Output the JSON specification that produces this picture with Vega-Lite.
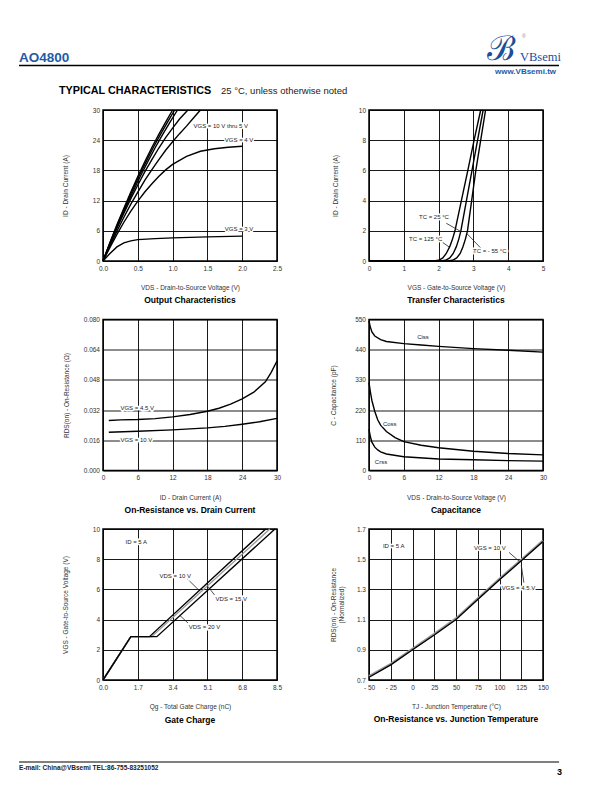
{
"$schema": "https://vega.github.io/schema/vega-lite/v6.json",
"background": "white",
"padding": {"left": 17, "top": 31, "right": 0, "bottom": 0},
"columns": 2,
"spacing": {"row": 58.5, "column": 92},
"bounds": "flush",
"datasets": {
"p1lines": [
{"s":"10 V","x":0,"y":0},{"s":"10 V","x":0.1,"y":3.7},{"s":"10 V","x":0.2,"y":7.2},{"s":"10 V","x":0.3,"y":10.5},{"s":"10 V","x":0.4,"y":13.7},{"s":"10 V","x":0.5,"y":16.8},{"s":"10 V","x":0.6,"y":19.7},{"s":"10 V","x":0.7,"y":22.5},{"s":"10 V","x":0.8,"y":25.1},{"s":"10 V","x":0.9,"y":27.6},{"s":"10 V","x":1.0,"y":30},
{"s":"8 V","x":0,"y":0},{"s":"8 V","x":0.103,"y":3.7},{"s":"8 V","x":0.206,"y":7.2},{"s":"8 V","x":0.309,"y":10.5},{"s":"8 V","x":0.412,"y":13.7},{"s":"8 V","x":0.515,"y":16.8},{"s":"8 V","x":0.618,"y":19.7},{"s":"8 V","x":0.721,"y":22.5},{"s":"8 V","x":0.824,"y":25.1},{"s":"8 V","x":0.927,"y":27.6},{"s":"8 V","x":1.03,"y":30},
{"s":"7 V","x":0,"y":0},{"s":"7 V","x":0.107,"y":3.7},{"s":"7 V","x":0.214,"y":7.2},{"s":"7 V","x":0.321,"y":10.5},{"s":"7 V","x":0.428,"y":13.7},{"s":"7 V","x":0.535,"y":16.8},{"s":"7 V","x":0.642,"y":19.7},{"s":"7 V","x":0.749,"y":22.5},{"s":"7 V","x":0.856,"y":25.1},{"s":"7 V","x":0.963,"y":27.6},{"s":"7 V","x":1.07,"y":30},
{"s":"6 V","x":0,"y":0},{"s":"6 V","x":0.1,"y":3.3},{"s":"6 V","x":0.2,"y":6.5},{"s":"6 V","x":0.3,"y":9.5},{"s":"6 V","x":0.4,"y":12.4},{"s":"6 V","x":0.5,"y":15.1},{"s":"6 V","x":0.6,"y":17.7},{"s":"6 V","x":0.7,"y":20.1},{"s":"6 V","x":0.8,"y":22.4},{"s":"6 V","x":0.9,"y":24.5},{"s":"6 V","x":1.0,"y":26.4},{"s":"6 V","x":1.1,"y":28.2},{"s":"6 V","x":1.22,"y":30},
{"s":"5 V","x":0,"y":0},{"s":"5 V","x":0.1,"y":3.0},{"s":"5 V","x":0.2,"y":5.9},{"s":"5 V","x":0.3,"y":8.7},{"s":"5 V","x":0.4,"y":11.3},{"s":"5 V","x":0.5,"y":13.7},{"s":"5 V","x":0.6,"y":16.0},{"s":"5 V","x":0.7,"y":18.1},{"s":"5 V","x":0.8,"y":20.1},{"s":"5 V","x":0.9,"y":22.0},{"s":"5 V","x":1.0,"y":23.7},{"s":"5 V","x":1.1,"y":25.3},{"s":"5 V","x":1.2,"y":26.8},{"s":"5 V","x":1.3,"y":28.4},{"s":"5 V","x":1.4,"y":30},
{"s":"4 V","x":0,"y":0},{"s":"4 V","x":0.1,"y":2.7},{"s":"4 V","x":0.2,"y":5.3},{"s":"4 V","x":0.3,"y":7.7},{"s":"4 V","x":0.4,"y":9.9},{"s":"4 V","x":0.5,"y":11.9},{"s":"4 V","x":0.6,"y":13.7},{"s":"4 V","x":0.7,"y":15.3},{"s":"4 V","x":0.8,"y":16.8},{"s":"4 V","x":0.9,"y":18.1},{"s":"4 V","x":1.0,"y":19.2},{"s":"4 V","x":1.2,"y":20.8},{"s":"4 V","x":1.4,"y":21.8},{"s":"4 V","x":1.6,"y":22.3},{"s":"4 V","x":1.8,"y":22.6},{"s":"4 V","x":2.0,"y":22.8},
{"s":"3 V","x":0,"y":0},{"s":"3 V","x":0.1,"y":1.5},{"s":"3 V","x":0.2,"y":2.8},{"s":"3 V","x":0.3,"y":3.6},{"s":"3 V","x":0.4,"y":4.0},{"s":"3 V","x":0.5,"y":4.25},{"s":"3 V","x":0.75,"y":4.45},{"s":"3 V","x":1.0,"y":4.6},{"s":"3 V","x":1.5,"y":4.8},{"s":"3 V","x":2.0,"y":4.95}
],
"p1labels": [
{"label":"VGS = 10 V thru 5 V","x":1.30,"y":26.9},
{"label":"VGS = 4 V","x":1.75,"y":24.1},
{"label":"VGS = 3 V","x":1.75,"y":6.35}
],
"header": [
{"k":"ao","text":"AO4800","x":-1.207,"y":39.54},
{"k":"www","text":"www.VBsemi.tw","x":6.509,"y":37.15},
{"k":"logo","text":"VBsemi","x":5.991,"y":39.74},
{"k":"glyph","text":"ℬ","x":5.52,"y":40.03},
{"k":"reg","text":"®","x":6.02,"y":44.3},
{"k":"tc","text":"TYPICAL CHARACTERISTICS","x":-0.632,"y":33.18},
{"k":"note","text":"25 °C, unless otherwise noted","x":1.695,"y":33.18}
],
"headerRule": [{"x":-1.207,"x2":6.552,"y":38.84}],
"p2lines": [
{"s":"125","x":0,"y":0},{"s":"125","x":1.85,"y":0},{"s":"125","x":2.0,"y":0.05},{"s":"125","x":2.12,"y":0.2},{"s":"125","x":2.22,"y":0.5},{"s":"125","x":2.32,"y":0.95},{"s":"125","x":2.40,"y":1.45},{"s":"125","x":2.47,"y":2.0},{"s":"125","x":2.65,"y":3.95},{"s":"125","x":2.84,"y":6.0},{"s":"125","x":3.02,"y":8.0},{"s":"125","x":3.21,"y":10},
{"s":"25","x":0,"y":0},{"s":"25","x":2.05,"y":0},{"s":"25","x":2.2,"y":0.05},{"s":"25","x":2.32,"y":0.2},{"s":"25","x":2.42,"y":0.5},{"s":"25","x":2.51,"y":0.95},{"s":"25","x":2.58,"y":1.45},{"s":"25","x":2.64,"y":2.0},{"s":"25","x":2.80,"y":4.0},{"s":"25","x":2.96,"y":6.0},{"s":"25","x":3.12,"y":8.0},{"s":"25","x":3.28,"y":10},
{"s":"-55","x":0,"y":0},{"s":"-55","x":2.25,"y":0},{"s":"-55","x":2.4,"y":0.05},{"s":"-55","x":2.52,"y":0.2},{"s":"-55","x":2.62,"y":0.5},{"s":"-55","x":2.70,"y":0.95},{"s":"-55","x":2.77,"y":1.45},{"s":"-55","x":2.83,"y":2.0},{"s":"-55","x":2.95,"y":4.0},{"s":"-55","x":3.07,"y":6.0},{"s":"-55","x":3.21,"y":8.0},{"s":"-55","x":3.35,"y":10}
],
"p2labels": [
{"label":"TC = 25 °C","x":1.437,"y":2.89},
{"label":"TC = 125 °C","x":1.149,"y":1.44},
{"label":"TC = - 55 °C","x":2.989,"y":0.66}
],
"p2arrows": [
{"x":2.22,"y":2.5,"x2":2.64,"y2":1.95},
{"x":2.12,"y":1.22,"x2":2.31,"y2":0.92},
{"x":3.2,"y":0.88,"x2":2.82,"y2":1.8}
],
"p3lines": [
{"s":"4.5 V","x":1,"y":0.0265},{"s":"4.5 V","x":3,"y":0.0268},{"s":"4.5 V","x":6,"y":0.0270},{"s":"4.5 V","x":9,"y":0.0275},{"s":"4.5 V","x":12,"y":0.0284},{"s":"4.5 V","x":15,"y":0.0297},{"s":"4.5 V","x":18,"y":0.0314},{"s":"4.5 V","x":20,"y":0.0330},{"s":"4.5 V","x":22,"y":0.0352},{"s":"4.5 V","x":24,"y":0.0380},{"s":"4.5 V","x":26,"y":0.0415},{"s":"4.5 V","x":28,"y":0.0470},{"s":"4.5 V","x":29,"y":0.052},{"s":"4.5 V","x":30,"y":0.058},
{"s":"10 V","x":1,"y":0.0203},{"s":"10 V","x":6,"y":0.0208},{"s":"10 V","x":12,"y":0.0215},{"s":"10 V","x":18,"y":0.0226},{"s":"10 V","x":21,"y":0.0234},{"s":"10 V","x":24,"y":0.0245},{"s":"10 V","x":27,"y":0.0258},{"s":"10 V","x":30,"y":0.0276}
],
"p3labels": [
{"label":"VGS = 4.5 V","x":3.0,"y":0.0330},
{"label":"VGS = 10 V","x":3.0,"y":0.0161}
],
"p4lines": [
{"s":"Ciss","x":0,"y":545},{"s":"Ciss","x":0.2,"y":525},{"s":"Ciss","x":0.5,"y":505},{"s":"Ciss","x":1,"y":490},{"s":"Ciss","x":2,"y":477},{"s":"Ciss","x":3,"y":470},{"s":"Ciss","x":6,"y":462},{"s":"Ciss","x":9,"y":457},{"s":"Ciss","x":12,"y":452},{"s":"Ciss","x":18,"y":444},{"s":"Ciss","x":24,"y":438},{"s":"Ciss","x":30,"y":431},
{"s":"Coss","x":0,"y":320},{"s":"Coss","x":0.25,"y":285},{"s":"Coss","x":0.5,"y":255},{"s":"Coss","x":1,"y":215},{"s":"Coss","x":1.5,"y":185},{"s":"Coss","x":2,"y":165},{"s":"Coss","x":3,"y":142},{"s":"Coss","x":4.5,"y":120},{"s":"Coss","x":6,"y":105},{"s":"Coss","x":9,"y":92},{"s":"Coss","x":12,"y":83},{"s":"Coss","x":18,"y":70},{"s":"Coss","x":24,"y":62},{"s":"Coss","x":30,"y":57},
{"s":"Crss","x":0,"y":150},{"s":"Crss","x":0.25,"y":122},{"s":"Crss","x":0.5,"y":103},{"s":"Crss","x":1,"y":85},{"s":"Crss","x":1.5,"y":75},{"s":"Crss","x":2,"y":68},{"s":"Crss","x":3,"y":60},{"s":"Crss","x":6,"y":50},{"s":"Crss","x":12,"y":42},{"s":"Crss","x":18,"y":39},{"s":"Crss","x":24,"y":36},{"s":"Crss","x":30,"y":34}
],
"p4labels": [
{"label":"Ciss","x":8.3,"y":487},
{"label":"Coss","x":2.4,"y":169},
{"label":"Crss","x":1.0,"y":32}
],
"p5lines": [
{"s":"10 V","x":0,"y":0},{"s":"10 V","x":1.36,"y":2.87},{"s":"10 V","x":2.27,"y":2.87},{"s":"10 V","x":7.95,"y":10},
{"s":"15 V","x":0,"y":0},{"s":"15 V","x":1.36,"y":2.87},{"s":"15 V","x":2.38,"y":2.87},{"s":"15 V","x":8.15,"y":10},
{"s":"20 V","x":0,"y":0},{"s":"20 V","x":1.36,"y":2.87},{"s":"20 V","x":2.63,"y":2.87},{"s":"20 V","x":8.4,"y":10}
],
"p5labels": [
{"label":"ID = 5 A","x":1.1,"y":9.12},
{"label":"VDS = 10 V","x":2.76,"y":6.87},
{"label":"VDS = 15 V","x":5.5,"y":5.36},
{"label":"VDS = 20 V","x":4.19,"y":3.53}
],
"p5arrows": [
{"x":4.12,"y":6.70,"x2":4.68,"y2":5.95},
{"x":5.45,"y":5.63,"x2":5.09,"y2":6.25},
{"x":4.15,"y":3.78,"x2":3.75,"y2":4.28}
],
"p5caption": [{"text":"Gate Charge","x":4.25,"y":-2.62}],
"footer": [
{"k":"mail","text":"E-mail:  China@VBsemi   TEL:86-755-83251052","x":-4.10,"y":-5.96},
{"k":"page","text":"3","x":22.42,"y":-6.29}
],
"footerRule": [{"x":-4.10,"x2":22.28,"y":-5.43}],
"p6a": [
{"x":-50,"y":0.724},{"x":-25,"y":0.806},{"x":0,"y":0.906},{"x":25,"y":1.004},{"x":50,"y":1.107},{"x":75,"y":1.239},{"x":100,"y":1.370},{"x":125,"y":1.496},{"x":150,"y":1.623}
],
"p6b": [
{"x":-50,"y":0.718},{"x":-25,"y":0.80},{"x":0,"y":0.90},{"x":25,"y":0.998},{"x":50,"y":1.101},{"x":75,"y":1.233},{"x":100,"y":1.364},{"x":125,"y":1.49},{"x":150,"y":1.617}
],
"p6labels": [
{"label":"ID = 5 A","x":-34,"y":1.588},
{"label":"VGS = 10 V","x":70.7,"y":1.573},
{"label":"VGS = 4.5 V","x":102.6,"y":1.31}
],
"p6arrows": [
{"x":111,"y":1.545,"x2":122.5,"y2":1.487},
{"x":128,"y":1.345,"x2":125,"y2":1.46}
]
},
"concat": [
{
"width": 174, "height": 151,
"title": "Output Characteristics",
"encoding": {
"x": {"field": "x", "type": "quantitative", "scale": {"domain": [0, 2.5], "nice": false, "zero": false}, "axis": {"values": [0, 0.5, 1, 1.5, 2, 2.5], "format": ".1f", "title": "VDS - Drain-to-Source Voltage (V)"}},
"y": {"field": "y", "type": "quantitative", "scale": {"domain": [0, 30], "nice": false, "zero": false}, "axis": {"values": [0, 6, 12, 18, 24, 30], "title": "ID - Drain Current (A)", "titleX": -35}}
},
"layer": [
{"data": {"name": "p1lines"}, "mark": {"type": "line", "color": "black", "strokeWidth": 1.4}, "encoding": {"detail": {"field": "s", "type": "nominal"}}},
{"data": {"name": "p1labels"}, "mark": {"type": "text", "align": "left", "baseline": "middle", "fontSize": 6, "font": "Liberation Sans", "fill": "white", "stroke": "white", "strokeWidth": 3}, "encoding": {"text": {"field": "label"}}},
{"data": {"name": "p1labels"}, "mark": {"type": "text", "align": "left", "baseline": "middle", "fontSize": 6, "font": "Liberation Sans", "color": "#222"}, "encoding": {"text": {"field": "label"}}},
{"data": {"name": "headerRule"}, "mark": {"type": "rule", "color": "black", "strokeWidth": 1.5, "clip": false}, "encoding": {"x2": {"field": "x2"}}},
{"data": {"name": "header"}, "transform": [{"filter": "datum.k == 'ao'"}], "mark": {"type": "text", "align": "left", "baseline": "alphabetic", "font": "Liberation Sans", "fontSize": 13.5, "fontWeight": "bold", "color": "#1f5aa8", "clip": false}, "encoding": {"text": {"field": "text"}}},
{"data": {"name": "header"}, "transform": [{"filter": "datum.k == 'www'"}], "mark": {"type": "text", "align": "right", "baseline": "alphabetic", "font": "Liberation Sans", "fontSize": 8, "fontWeight": "bold", "color": "#1f5aa8", "clip": false}, "encoding": {"text": {"field": "text"}}},
{"data": {"name": "header"}, "transform": [{"filter": "datum.k == 'logo'"}], "mark": {"type": "text", "align": "left", "baseline": "alphabetic", "font": "Liberation Serif", "fontSize": 12.5, "color": "#1a4f9c", "clip": false}, "encoding": {"text": {"field": "text"}}},
{"data": {"name": "header"}, "transform": [{"filter": "datum.k == 'glyph'"}], "mark": {"type": "text", "align": "left", "baseline": "alphabetic", "font": "DejaVu Serif", "fontSize": 34, "color": "#1a4f9c", "clip": false}, "encoding": {"text": {"field": "text"}}},
{"data": {"name": "header"}, "transform": [{"filter": "datum.k == 'reg'"}], "mark": {"type": "text", "align": "left", "baseline": "alphabetic", "font": "Liberation Sans", "fontSize": 5, "color": "#888", "clip": false}, "encoding": {"text": {"field": "text"}}},
{"data": {"name": "header"}, "transform": [{"filter": "datum.k == 'tc'"}], "mark": {"type": "text", "align": "left", "baseline": "alphabetic", "font": "Liberation Sans", "fontSize": 10.8, "fontWeight": "bold", "color": "black", "clip": false}, "encoding": {"text": {"field": "text"}}},
{"data": {"name": "header"}, "transform": [{"filter": "datum.k == 'note'"}], "mark": {"type": "text", "align": "left", "baseline": "alphabetic", "font": "Liberation Sans", "fontSize": 9.5, "color": "#222", "clip": false}, "encoding": {"text": {"field": "text"}}}
]
},
{
"width": 174, "height": 151,
"title": "Transfer Characteristics",
"encoding": {
"x": {"field": "x", "type": "quantitative", "scale": {"domain": [0, 5], "nice": false, "zero": false}, "axis": {"values": [0, 1, 2, 3, 4, 5], "format": "d", "title": "VGS - Gate-to-Source Voltage (V)"}},
"y": {"field": "y", "type": "quantitative", "scale": {"domain": [0, 10], "nice": false, "zero": false}, "axis": {"values": [0, 2, 4, 6, 8, 10], "title": "ID - Drain Current (A)", "titleX": -31}}
},
"layer": [
{"data": {"name": "p2lines"}, "mark": {"type": "line", "color": "black", "strokeWidth": 1.4}, "encoding": {"detail": {"field": "s", "type": "nominal"}}},
{"data": {"name": "p2arrows"}, "mark": {"type": "rule", "color": "#222", "strokeWidth": 0.8}, "encoding": {"x2": {"field": "x2"}, "y2": {"field": "y2"}}},
{"data": {"name": "p2labels"}, "mark": {"type": "text", "align": "left", "baseline": "middle", "fontSize": 6, "font": "Liberation Sans", "fill": "white", "stroke": "white", "strokeWidth": 3}, "encoding": {"text": {"field": "label"}}},
{"data": {"name": "p2labels"}, "mark": {"type": "text", "align": "left", "baseline": "middle", "fontSize": 6, "font": "Liberation Sans", "color": "#222"}, "encoding": {"text": {"field": "label"}}}
]
},
{
"width": 174, "height": 151,
"title": "On-Resistance vs. Drain Current",
"encoding": {
"x": {"field": "x", "type": "quantitative", "scale": {"domain": [0, 30], "nice": false, "zero": false}, "axis": {"values": [0, 6, 12, 18, 24, 30], "format": "d", "title": "ID - Drain Current (A)"}},
"y": {"field": "y", "type": "quantitative", "scale": {"domain": [0, 0.08], "nice": false, "zero": false}, "axis": {"values": [0, 0.016, 0.032, 0.048, 0.064, 0.08], "format": ".3f", "title": "RDS(on) - On-Resistance (Ω)", "titleX": -34}}
},
"layer": [
{"data": {"name": "p3lines"}, "mark": {"type": "line", "color": "black", "strokeWidth": 1.4}, "encoding": {"detail": {"field": "s", "type": "nominal"}}},
{"data": {"name": "p3labels"}, "mark": {"type": "text", "align": "left", "baseline": "middle", "fontSize": 6, "font": "Liberation Sans", "fill": "white", "stroke": "white", "strokeWidth": 3}, "encoding": {"text": {"field": "label"}}},
{"data": {"name": "p3labels"}, "mark": {"type": "text", "align": "left", "baseline": "middle", "fontSize": 6, "font": "Liberation Sans", "color": "#222"}, "encoding": {"text": {"field": "label"}}}
]
},
{
"width": 174, "height": 151,
"title": "Capacitance",
"encoding": {
"x": {"field": "x", "type": "quantitative", "scale": {"domain": [0, 30], "nice": false, "zero": false}, "axis": {"values": [0, 6, 12, 18, 24, 30], "format": "d", "title": "VDS - Drain-to-Source Voltage (V)"}},
"y": {"field": "y", "type": "quantitative", "scale": {"domain": [0, 550], "nice": false, "zero": false}, "axis": {"values": [0, 110, 220, 330, 440, 550], "format": "d", "title": "C - Capacitance (pF)", "titleX": -33}}
},
"layer": [
{"data": {"name": "p4lines"}, "mark": {"type": "line", "color": "black", "strokeWidth": 1.4}, "encoding": {"detail": {"field": "s", "type": "nominal"}}},
{"data": {"name": "p4labels"}, "mark": {"type": "text", "align": "left", "baseline": "middle", "fontSize": 6, "font": "Liberation Sans", "fill": "white", "stroke": "white", "strokeWidth": 3}, "encoding": {"text": {"field": "label"}}},
{"data": {"name": "p4labels"}, "mark": {"type": "text", "align": "left", "baseline": "middle", "fontSize": 6, "font": "Liberation Sans", "color": "#222"}, "encoding": {"text": {"field": "label"}}}
]
},
{
"width": 174, "height": 151,
"encoding": {
"x": {"field": "x", "type": "quantitative", "scale": {"domain": [0, 8.5], "nice": false, "zero": false}, "axis": {"values": [0, 1.7, 3.4, 5.1, 6.8, 8.5], "format": ".1f", "title": "Qg - Total Gate Charge (nC)"}},
"y": {"field": "y", "type": "quantitative", "scale": {"domain": [0, 10], "nice": false, "zero": false}, "axis": {"values": [0, 2, 4, 6, 8, 10], "title": "VGS - Gate-to-Source Voltage (V)", "titleX": -35}}
},
"layer": [
{"data": {"name": "p5lines"}, "mark": {"type": "line", "strokeWidth": 1.4}, "encoding": {"color": {"field": "s", "type": "nominal", "scale": {"domain": ["10 V", "15 V", "20 V"], "range": ["black", "#999999", "black"]}, "legend": null}}},
{"data": {"name": "p5arrows"}, "mark": {"type": "rule", "color": "#222", "strokeWidth": 0.8}, "encoding": {"x2": {"field": "x2"}, "y2": {"field": "y2"}}},
{"data": {"name": "p5labels"}, "mark": {"type": "text", "align": "left", "baseline": "middle", "fontSize": 6, "font": "Liberation Sans", "fill": "white", "stroke": "white", "strokeWidth": 3}, "encoding": {"text": {"field": "label"}}},
{"data": {"name": "p5labels"}, "mark": {"type": "text", "align": "left", "baseline": "middle", "fontSize": 6, "font": "Liberation Sans", "color": "#222"}, "encoding": {"text": {"field": "label"}}},
{"data": {"name": "p5caption"}, "mark": {"type": "text", "align": "center", "baseline": "middle", "font": "Liberation Sans Narrow, Liberation Sans", "fontSize": 8.5, "fontWeight": "bold", "color": "black", "clip": false}, "encoding": {"text": {"field": "text"}}},
{"data": {"name": "footerRule"}, "mark": {"type": "rule", "color": "black", "strokeWidth": 1.2, "clip": false}, "encoding": {"x2": {"field": "x2"}}},
{"data": {"name": "footer"}, "transform": [{"filter": "datum.k == 'mail'"}], "mark": {"type": "text", "align": "left", "baseline": "alphabetic", "font": "Liberation Sans Narrow, Liberation Sans", "fontSize": 6.5, "fontWeight": "bold", "color": "#222", "clip": false}, "encoding": {"text": {"field": "text"}}},
{"data": {"name": "footer"}, "transform": [{"filter": "datum.k == 'page'"}], "mark": {"type": "text", "align": "right", "baseline": "alphabetic", "font": "Liberation Sans", "fontSize": 9, "fontWeight": "bold", "color": "black", "clip": false}, "encoding": {"text": {"field": "text"}}}
]
},
{
"width": 174, "height": 151,
"title": "On-Resistance vs. Junction Temperature",
"encoding": {
"x": {"field": "x", "type": "quantitative", "scale": {"domain": [-50, 150], "nice": false, "zero": false}, "axis": {"values": [-50, -25, 0, 25, 50, 75, 100, 125, 150], "labelExpr": "datum.value < 0 ? '- ' + abs(datum.value) : datum.label", "title": "TJ - Junction Temperature (°C)"}},
"y": {"field": "y", "type": "quantitative", "scale": {"domain": [0.7, 1.7], "nice": false, "zero": false}, "axis": {"values": [0.7, 0.9, 1.1, 1.3, 1.5, 1.7], "format": ".1f", "title": ["RDS(on) - On-Resistance", "(Normalized)"], "titleX": -33}}
},
"layer": [
{"data": {"name": "p6a"}, "mark": {"type": "line", "color": "#999999", "strokeWidth": 2.4}},
{"data": {"name": "p6b"}, "mark": {"type": "line", "color": "black", "strokeWidth": 1.3}},
{"data": {"name": "p6arrows"}, "mark": {"type": "rule", "color": "#222", "strokeWidth": 0.8}, "encoding": {"x2": {"field": "x2"}, "y2": {"field": "y2"}}},
{"data": {"name": "p6labels"}, "mark": {"type": "text", "align": "left", "baseline": "middle", "fontSize": 6, "font": "Liberation Sans", "fill": "white", "stroke": "white", "strokeWidth": 3}, "encoding": {"text": {"field": "label"}}},
{"data": {"name": "p6labels"}, "mark": {"type": "text", "align": "left", "baseline": "middle", "fontSize": 6, "font": "Liberation Sans", "color": "#222"}, "encoding": {"text": {"field": "label"}}}
]
}
],
"config": {
"view": {"stroke": "black", "strokeWidth": 1.5},
"axis": {"grid": true, "gridColor": "black", "gridOpacity": 1, "gridWidth": 0.9, "domain": false, "ticks": false, "labelFont": "Liberation Sans", "labelFontSize": 6.5, "labelColor": "#333", "labelPadding": 3.5, "labelFlush": false, "labelOverlap": false, "titleFont": "Liberation Sans", "titleFontSize": 6.5, "titleFontWeight": "normal", "titleColor": "#333"},
"axisX": {"titlePadding": 13, "labelPadding": 4},
"title": {"orient": "bottom", "anchor": "middle", "frame": "group", "font": "Liberation Sans Narrow, Liberation Sans", "fontSize": 8.5, "fontWeight": "bold", "color": "black", "offset": 5}
}
}
